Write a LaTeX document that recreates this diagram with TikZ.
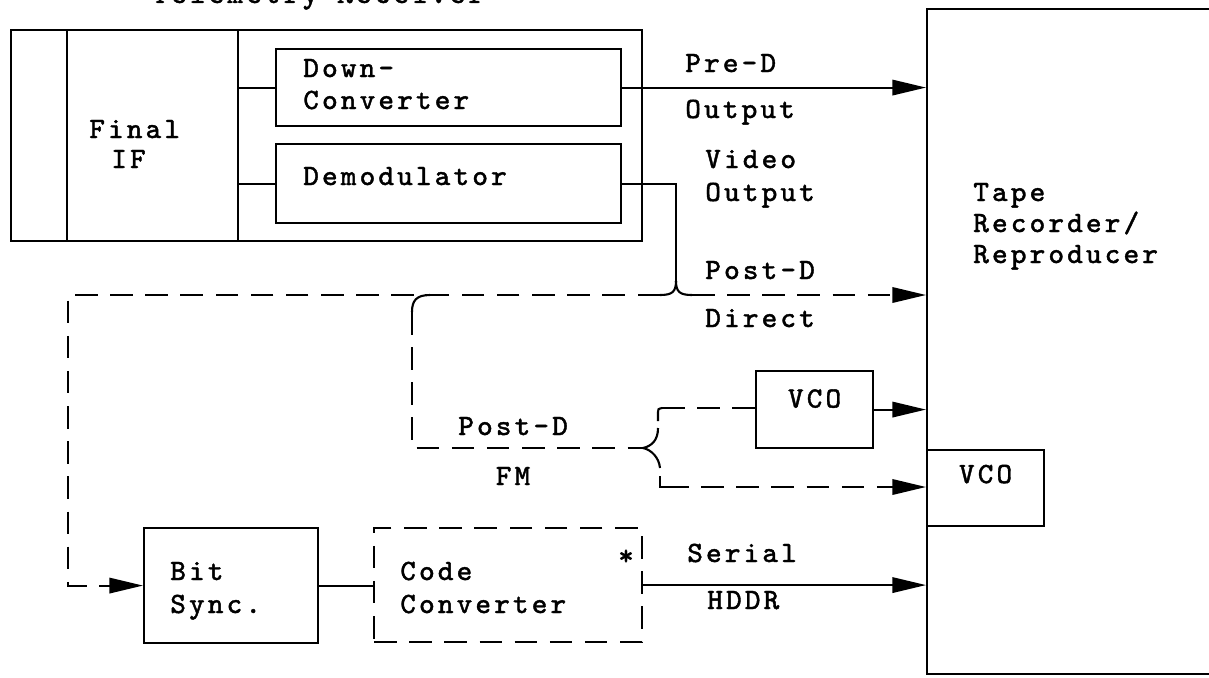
\documentclass[tikz,border=0pt]{standalone}
\usepackage{fontspec}
\newfontfamily\tw{lmmono8-regular.otf}[LetterSpace=10.5,FakeBold=1.3]
\usetikzlibrary{arrows.meta,calc}
\begin{document}
\begin{tikzpicture}[x=0.025cm,y=-0.025cm,
  lw/.style={line width=1.5pt},
  box/.style={draw,lw,inner sep=0pt,anchor=north west},
  dsh/.style={dash pattern=on 16pt off 9pt},
  arr/.style={-{Triangle[length=24pt,width=11pt]}},
  txt/.style={inner sep=0pt,font=\tw\fontsize{21}{25}\selectfont}]
\useasboundingbox (0,0) rectangle (1209,677);
\clip (0,0) rectangle (1209,677);
% title (cut off at the top)
\node[txt,anchor=base west] (title) at (152,3) {Telemetry Receiver};
% receiver
\node[box,minimum width=15.775cm,minimum height=5.275cm] (recv) at (10,29) {};
\coordinate (div1) at (67,0);
\coordinate (div2) at (238,0);
\draw[lw] (div1 |- recv.north) -- (div1 |- recv.south);
\draw[lw] (div2 |- recv.north) -- (div2 |- recv.south);
\node[txt,anchor=mid west] (final) at (89,135) {Final};
\node[txt,anchor=mid west] (if) at (111,165) {IF};
\node[box,minimum width=8.625cm,minimum height=1.925cm] (down) at (275,48) {};
\node[txt,anchor=mid west] (downa) at (303,74) {Down-};
\node[txt,anchor=mid west] (downb) at (303,106) {Converter};
\node[box,minimum width=8.625cm,minimum height=1.975cm] (demod) at (275,143) {};
\node[txt,anchor=mid west] (demodt) at (303,182) {Demodulator};
\draw[lw] (div2 |- down.west) -- (down.west);
\draw[lw] (div2 |- demod.west) -- (demod.west);
% tape recorder
\node[box,minimum width=7.5cm,minimum height=16.625cm] (tape) at (926,8) {};
\node[txt,anchor=mid west] (tapea) at (973,198) {Tape};
\node[txt,anchor=mid west] (tapeb) at (973,229) {Recorder/};
\node[txt,anchor=mid west] (tapec) at (973,260) {Reproducer};
% VCOs
\node[box,minimum width=2.925cm,minimum height=1.925cm] (vcoa) at (755,370) {};
\node[txt,anchor=mid] (vcoat) at ($(vcoa.center)+(0,-5)$) {VCO};
\node[box,minimum width=2.925cm,minimum height=1.9cm] (vcob) at (926,449) {};
\node[txt,anchor=mid] (vcobt) at ($(vcob.center)+(0,-8)$) {VCO};
% bit sync and code converter
\node[box,minimum width=4.35cm,minimum height=2.875cm] (bits) at (143,527) {};
\node[txt,anchor=mid west] (bita) at (170,577) {Bit};
\node[txt,anchor=mid west] (bitb) at (170,610) {Sync.};
\node[box,dsh,minimum width=6.7cm,minimum height=2.85cm] (code) at (373,527) {};
\node[txt,anchor=mid west] (codea) at (400,577) {Code};
\node[txt,anchor=mid west] (codeb) at (400,610) {Converter};
\node[txt,anchor=mid] (star) at (626,562) {*};
% labels
\node[txt,anchor=mid west] (pred) at (685,69) {Pre-D};
\node[txt,anchor=mid west] (predo) at (685,115) {Output};
\node[txt,anchor=mid west] (vida) at (705,165) {Video};
\node[txt,anchor=mid west] (vidb) at (705,198) {Output};
\node[txt,anchor=mid west] (postd) at (705,276) {Post-D};
\node[txt,anchor=mid west] (direct) at (705,324) {Direct};
\node[txt,anchor=mid west] (postf) at (458,432) {Post-D};
\node[txt,anchor=mid] (fm) at (513,482) {FM};
\node[txt,anchor=mid west] (serial) at (687,559) {Serial};
\node[txt,anchor=mid west] (hddr) at (707,606) {HDDR};
% connectors
\draw[lw,arr] (down.east) -- (down.east -| tape.west);
\coordinate (vtop) at (676,281);
\coordinate (vr) at (692,295);
\coordinate (vl) at (660,295);
\draw[lw] (demod.east) -| (vtop);
\draw[lw] (vtop) .. controls (676,292) and (672,295) .. (vl);
\draw[lw] (vtop) .. controls (676,292) and (680,295) .. (vr);
\draw[lw,dsh,arr] (vr) -- (vr -| tape.west);
\coordinate (lc) at (68,295);
\draw[lw,dsh,arr] (vl) -- (lc) |- (bits.west);
% branch to FM
\coordinate (brs) at (430,295);
\coordinate (bra) at (412,312);
\draw[lw] (brs) .. controls (416,295) and (412,301) .. (bra);
\coordinate (bc) at (412,448);
\coordinate (tip) at (643,448);
\draw[lw,dsh] (bra) -- (bc) -- (tip);
% brace
\draw[lw] (tip) .. controls (652,446) and (658,440) .. (658,428);
\draw[lw] (tip) .. controls (652,450) and (659,458) .. (660,468);
\coordinate (ua) at (658,421);
\coordinate (ub) at (662,408);
\draw[lw] (ua) -- (658,412) .. controls (658,409) .. (ub);
\draw[lw,dsh] (ub) -- (ub -| vcoa.west);
\draw[lw,arr] (vcoa.east) -- (vcoa.east -| tape.west);
\coordinate (la) at (660,476);
\coordinate (lb) at (666,487);
\draw[lw] (la) |- (lb);
\draw[lw,dsh,arr] (lb) -- (lb -| vcob.west);
% bit sync chain
\draw[lw] (bits.east) -- (bits.east -| code.west);
\draw[lw,arr] (code.east) -- (code.east -| tape.west);
\end{tikzpicture}
\end{document}
